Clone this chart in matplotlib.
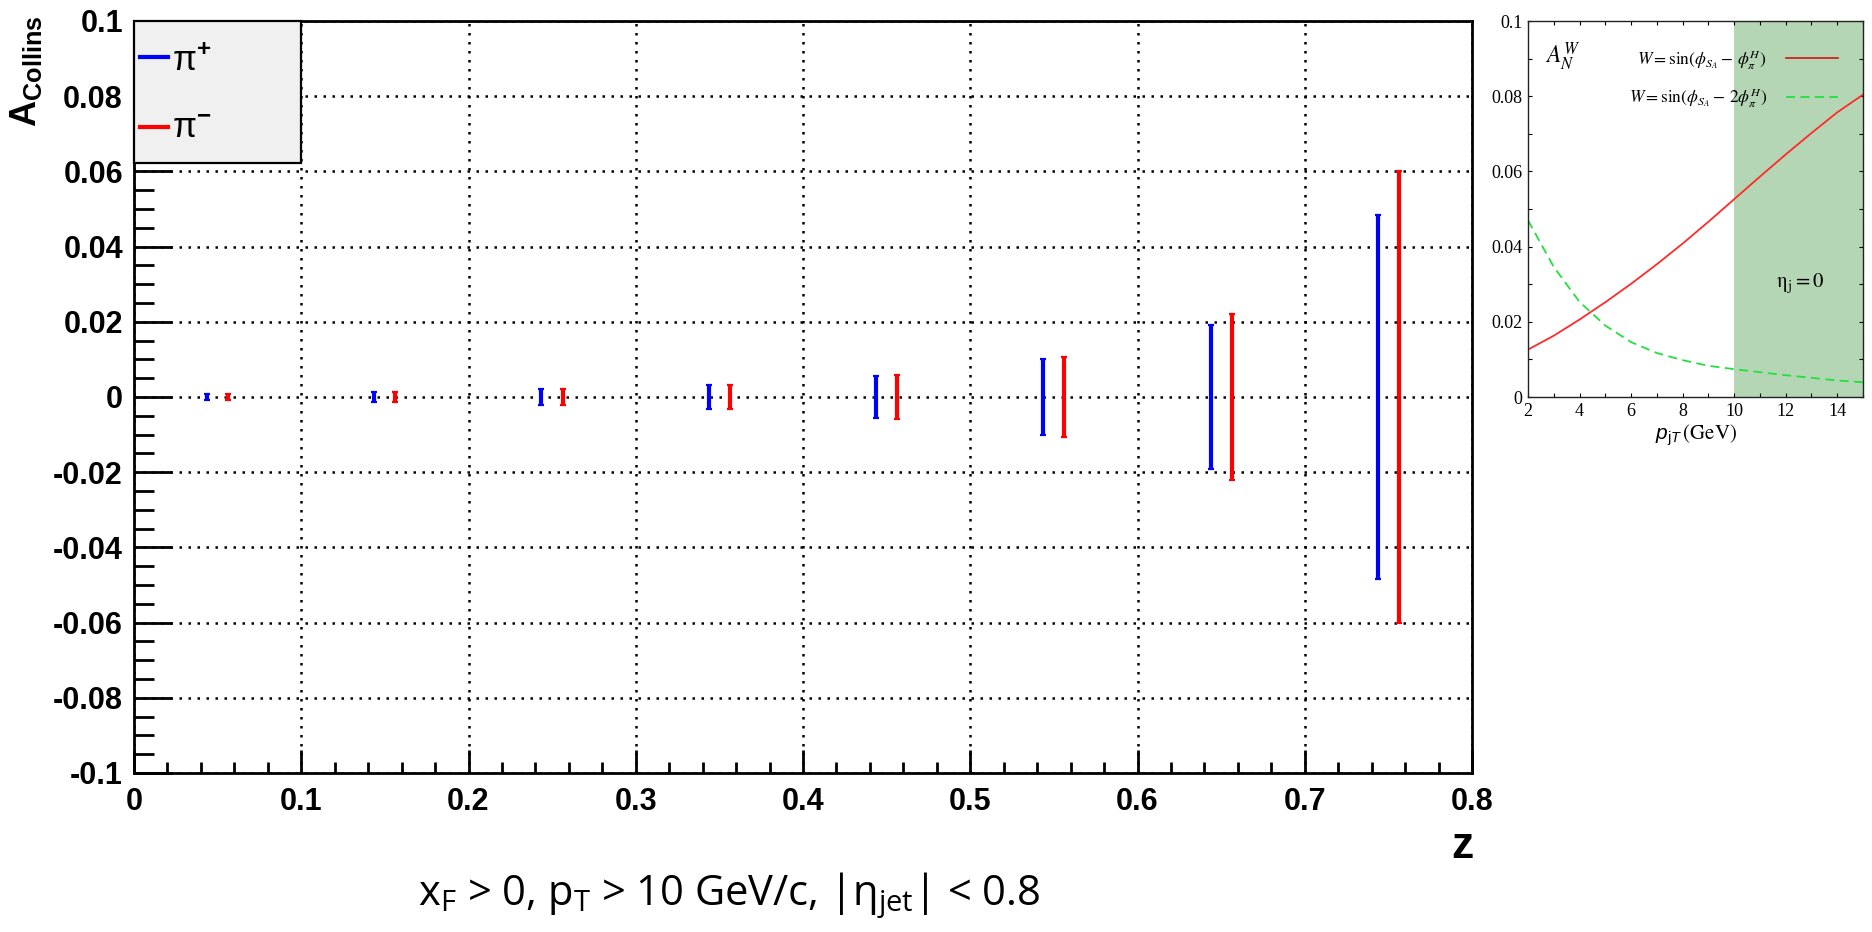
import matplotlib
matplotlib.use("Agg")
import matplotlib.pyplot as plt
from matplotlib.patches import Rectangle
from matplotlib.ticker import MultipleLocator, FixedLocator

# ---------------- data ----------------
z_pip = [0.0435, 0.1435, 0.2435, 0.3437, 0.4437, 0.5437, 0.6437, 0.7437]
z_pim = [0.0563, 0.1563, 0.2563, 0.3563, 0.4563, 0.5563, 0.6563, 0.7563]
a_pip = [0, 0, 0, 0, 0, 0, 0, 0]
a_pim = [0, 0, 0, 0, 0, 0, 0, 0]
err_pip = [0.0009, 0.0013, 0.0021, 0.0031, 0.0055, 0.0102, 0.0192, 0.0483]
err_pim = [0.0009, 0.0014, 0.0022, 0.0033, 0.0059, 0.0107, 0.0222, 0.0600]

x_ticks = [0, 0.1, 0.2, 0.3, 0.4, 0.5, 0.6, 0.7, 0.8]
x_tick_labels = ["0", "0.1", "0.2", "0.3", "0.4", "0.5", "0.6", "0.7", "0.8"]
y_ticks = [-0.1, -0.08, -0.06, -0.04, -0.02, 0, 0.02, 0.04, 0.06, 0.08, 0.1]
y_tick_labels = ["-0.1", "-0.08", "-0.06", "-0.04", "-0.02", "0",
                 "0.02", "0.04", "0.06", "0.08", "0.1"]

# inset theory curves
pt_vals = [2, 3, 4, 5, 6, 7, 8, 9, 10, 11, 12, 13, 14, 15]
an_sin1 = [0.0126, 0.0163, 0.0206, 0.0252, 0.0301, 0.0353, 0.0408,
           0.0466, 0.0526, 0.0586, 0.0645, 0.0702, 0.0757, 0.0804]
an_sin2 = [0.0470, 0.0346, 0.0253, 0.0190, 0.0146, 0.0117, 0.0098,
           0.0083, 0.0074, 0.0066, 0.0058, 0.0051, 0.0044, 0.0039]
shade_range = [10, 15]
inset_x_ticks = [2, 4, 6, 8, 10, 12, 14]
inset_y_ticks = [0, 0.02, 0.04, 0.06, 0.08, 0.1]
inset_y_labels = ["0", "0.02", "0.04", "0.06", "0.08", "0.1"]

# ---------------- figure ----------------
W, H = 1872, 932
fig = plt.figure(figsize=(W / 100, H / 100), dpi=100)
plt.rcParams['mathtext.fontset'] = 'custom'
plt.rcParams['mathtext.bf'] = 'Liberation Sans:bold'
plt.rcParams['mathtext.rm'] = 'Liberation Sans'
plt.rcParams['mathtext.it'] = 'Liberation Sans:italic'

def fx(px):
    return px / W

def fy(py):
    return 1 - py / H

L, R, T, B = 134, 1472, 21, 773
ax = fig.add_axes([fx(L), fy(B), fx(R) - fx(L), fy(T) - fy(B)])
ax.set_xlim(0, 0.8)
ax.set_ylim(-0.1, 0.1)

for s in ax.spines.values():
    s.set_linewidth(2.0)

ax.xaxis.set_major_locator(FixedLocator(x_ticks))
ax.set_xticklabels(x_tick_labels)
ax.xaxis.set_minor_locator(MultipleLocator(0.02))
ax.yaxis.set_major_locator(FixedLocator(y_ticks))
ax.set_yticklabels(y_tick_labels)
ax.yaxis.set_minor_locator(MultipleLocator(0.005))

ax.tick_params(axis='x', which='major', direction='in', length=16.5, width=2,
               pad=10, top=False, labelsize=22)
ax.tick_params(axis='x', which='minor', direction='in', length=8, width=2, top=False)
ax.tick_params(axis='y', which='major', direction='in', length=27.5, width=2,
               pad=8, right=False, labelsize=22)
ax.tick_params(axis='y', which='minor', direction='in', length=14.5, width=2, right=False)
for lab in ax.get_xticklabels() + ax.get_yticklabels():
    lab.set_fontfamily('Liberation Sans')
    lab.set_fontweight('bold')

ax.grid(True, which='major', color='black', linestyle=(0, (1, 2.6)), linewidth=1.8)
ax.set_axisbelow(True)

ax.errorbar(z_pip, a_pip, yerr=err_pip, fmt='none', ecolor='#0000ff',
            elinewidth=3.0, capsize=2.2, capthick=1.6, zorder=3)
ax.errorbar(z_pim, a_pim, yerr=err_pim, fmt='none', ecolor='#ff0000',
            elinewidth=3.0, capsize=2.2, capthick=1.6, zorder=3)

# legend box
leg_w = (301 - L) / (R - L)
leg_h = (163 - T) / (B - T)
ax.add_patch(Rectangle((0, 1 - leg_h), leg_w, leg_h, transform=ax.transAxes,
                       facecolor='#f0f0f0', edgecolor='black', linewidth=1.6,
                       zorder=5, clip_on=False))

def axx(px):
    return (px - L) / (R - L)

def axy(py):
    return (B - py) / (B - T)

ax.plot([axx(140), axx(168)], [axy(57), axy(57)], color='#0000ff', lw=3,
        transform=ax.transAxes, zorder=6, clip_on=False)
ax.plot([axx(140), axx(168)], [axy(127), axy(127)], color='#ff0000', lw=3,
        transform=ax.transAxes, zorder=6, clip_on=False)
ax.text(axx(172), axy(60), r'$\mathrm{\pi}^{\mathbf{+}}$', transform=ax.transAxes,
        fontsize=25, va='center', ha='left', zorder=7, family='DejaVu Serif')
ax.text(axx(172), axy(128), r'$\mathrm{\pi}^{\mathbf{-}}$', transform=ax.transAxes,
        fontsize=25, va='center', ha='left', zorder=7, family='DejaVu Serif')

# axis labels
fig.text(fx(26), fy(71), r'$\mathbf{A}_{\mathbf{Collins}}$', rotation=90,
         ha='center', va='center', fontsize=26)
fig.text(fx(1462), fy(847), 'z', ha='center', va='center', fontsize=32,
         fontweight='bold', family='Liberation Sans')

# bottom caption
fig.text(fx(729), fy(896),
         r'x$_\mathregular{F}$ > 0, p$_\mathregular{T}$ > 10 GeV/c, |η$_\mathregular{jet}$| < 0.8',
         ha='center', va='center', fontsize=30, family=['Open Sans', 'DejaVu Sans'])

# ---------------- inset ----------------
IL, IR, IT, IB = 1528, 1863, 21, 397
axi = fig.add_axes([fx(IL), fy(IB), fx(IR) - fx(IL), fy(IT) - fy(IB)])
axi.set_xlim(2, 15)
axi.set_ylim(0, 0.1)
axi.axvspan(shade_range[0], shade_range[1], color='#b4d6b4', lw=0, zorder=0)
axi.plot(pt_vals, an_sin1, color='#ff2a2a', lw=1.3, zorder=2)
axi.plot(pt_vals, an_sin2, color='#22e040', lw=1.3, linestyle=(0, (5, 3)), zorder=2)
for s in axi.spines.values():
    s.set_linewidth(1.0)
    s.set_color('#222222')
    s.set_zorder(3)
axi.xaxis.set_major_locator(FixedLocator(inset_x_ticks))
axi.xaxis.set_minor_locator(MultipleLocator(1))
axi.yaxis.set_major_locator(FixedLocator(inset_y_ticks))
axi.set_yticklabels(inset_y_labels)
axi.yaxis.set_minor_locator(MultipleLocator(0.01))
axi.tick_params(which='both', direction='in', top=True, right=True,
                length=3, width=0.8, labelsize=13, pad=4)
for lab in axi.get_xticklabels() + axi.get_yticklabels():
    lab.set_fontfamily('Liberation Serif')

plt.rcParams['mathtext.fontset'] = 'stix'
axi.set_xlabel(r'$p_{\mathrm{j}T}\,$(GeV)', fontsize=15, family='STIXGeneral', labelpad=2)

def ix(px):
    return (px - IL) / (IR - IL)

def iy(py):
    return (IB - py) / (IB - IT)

axi.text(ix(1545), iy(57), r'$A_N^W$', transform=axi.transAxes, fontsize=17,
         ha='left', va='center')
axi.text(ix(1767), iy(60), r'$W = \sin(\phi_{S_A}-\,\phi_\pi^H)$', transform=axi.transAxes,
         fontsize=12.5, ha='right', va='center')
axi.text(ix(1767), iy(98), r'$W = \sin(\phi_{S_A}-\,2\phi_\pi^H)$', transform=axi.transAxes,
         fontsize=12.5, ha='right', va='center')
axi.plot([ix(1786), ix(1838)], [iy(58), iy(58)], color='#d42020', lw=1.3,
         transform=axi.transAxes)
axi.plot([ix(1786), ix(1838)], [iy(97), iy(97)], color='#22e040', lw=1.3,
         linestyle=(0, (5, 3)), transform=axi.transAxes)
axi.text(ix(1800), iy(283), r'$\mathrm{\eta_j = 0}$', transform=axi.transAxes,
         fontsize=15, ha='center', va='center')

fig.savefig('out.png', dpi=100)
